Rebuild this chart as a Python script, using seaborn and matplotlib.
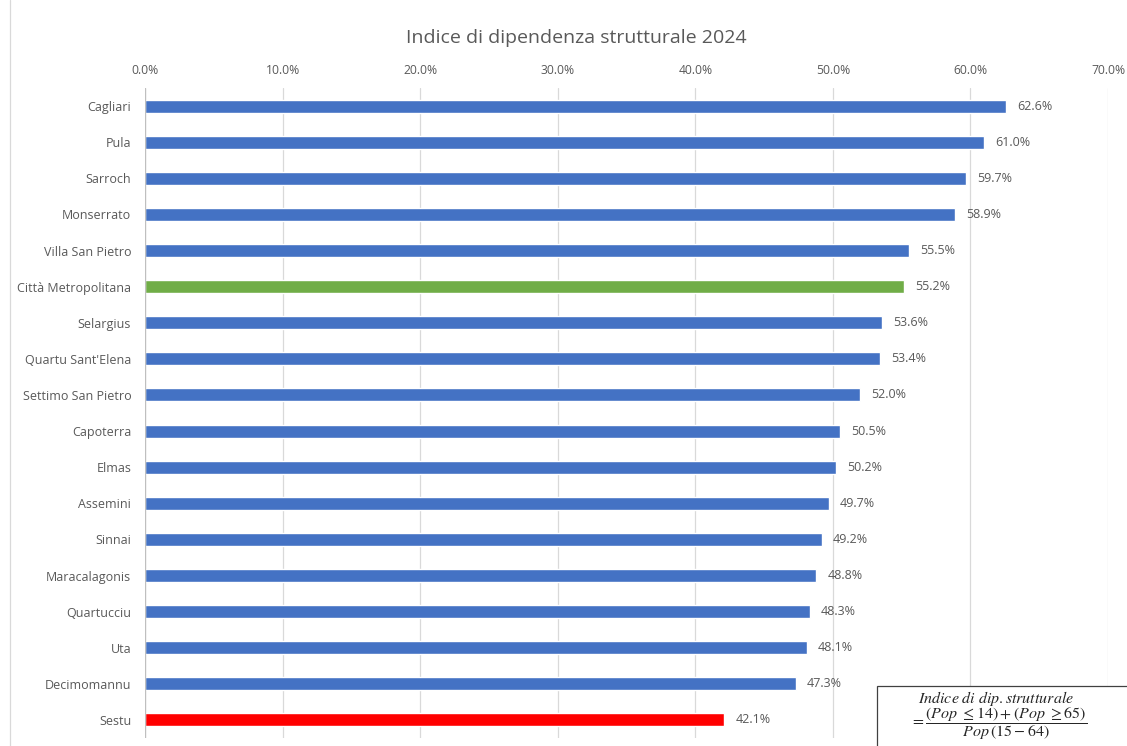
import matplotlib
matplotlib.use("Agg")
import matplotlib.pyplot as plt
import matplotlib.patches as mpatches
import seaborn as sns
import pandas as pd

comuni = ["Cagliari", "Pula", "Sarroch", "Monserrato", "Villa San Pietro",
          "Città Metropolitana", "Selargius", "Quartu Sant'Elena",
          "Settimo San Pietro", "Capoterra", "Elmas", "Assemini", "Sinnai",
          "Maracalagonis", "Quartucciu", "Uta", "Decimomannu", "Sestu"]
indice = [62.6, 61.0, 59.7, 58.9, 55.5, 55.2, 53.6, 53.4, 52.0, 50.5,
          50.2, 49.7, 49.2, 48.8, 48.3, 48.1, 47.3, 42.1]
tick_values = [0, 10, 20, 30, 40, 50, 60, 70]

BLUE = "#4472C4"
GREEN = "#70AD47"
RED = "#FF0000"
GREY = "#595959"

colori = [GREEN if c == "Città Metropolitana" else RED if c == "Sestu" else BLUE
          for c in comuni]

df = pd.DataFrame({"comune": comuni, "indice": indice})

sns.set_theme(style="white")
plt.rcParams["font.family"] = ["Open Sans", "DejaVu Sans"]
plt.rcParams["mathtext.fontset"] = "stix"

fig = plt.figure(figsize=(11.27, 7.46), dpi=100)
ax = fig.add_axes([0.1287, 0.0107, 0.9832 - 0.1287, 0.882 - 0.0107])

sns.barplot(data=df, x="indice", y="comune", hue="comune", palette=colori,
            legend=False, width=0.36, orient="h", ax=ax, saturation=1)

ax.set_xlim(0, 70)
ax.set_ylim(len(comuni) - 0.5, -0.5)
ax.xaxis.tick_top()
ax.set_xticks(tick_values)
ax.set_xticklabels([f"{v:.1f}%" for v in tick_values], color=GREY, fontsize=8.7)
ax.tick_params(axis="x", length=0, pad=8)
ax.tick_params(axis="y", length=0, pad=10, labelsize=9, labelcolor=GREY)
ax.set_xlabel("")
ax.set_ylabel("")
ax.grid(axis="x", color="#D9D9D9", linewidth=0.9)
ax.set_axisbelow(True)
for s in ax.spines.values():
    s.set_visible(False)
ax.axvline(0, color="#BFBFBF", linewidth=0.9, zorder=3)

for cont in ax.containers:
    ax.bar_label(cont, fmt="%.1f%%", padding=8, fontsize=9, color=GREY)

fig.text(0.511, 0.949, "Indice di dipendenza strutturale 2024", ha="center",
         va="center", fontsize=14, color=GREY)

# chart frame on the left edge
fig.add_artist(plt.Line2D([0.0089, 0.0089], [0, 1], transform=fig.transFigure,
                          color="#D9D9D9", linewidth=0.9))

# formula box
box = mpatches.Rectangle((877 / 1127, -0.05), 0.25, 0.05 + (746 - 686) / 746,
                         transform=fig.transFigure, facecolor="white",
                         edgecolor="#404040", linewidth=0.9, zorder=10)
fig.add_artist(box)
fig.text(0.884, 1 - 698 / 746, r"$Indice\ di\ dip.strutturale$",
         ha="center", va="center", fontsize=11.5, color="#262626", zorder=11)
fig.text(0.886, 1 - 724 / 746,
         r"$=\dfrac{(Pop\ \leq 14)+(Pop\ \geq 65)}{Pop\,(15-64)}$",
         ha="center", va="center", fontsize=11.5, color="#262626", zorder=11)

fig.savefig("out.png", dpi=100)
